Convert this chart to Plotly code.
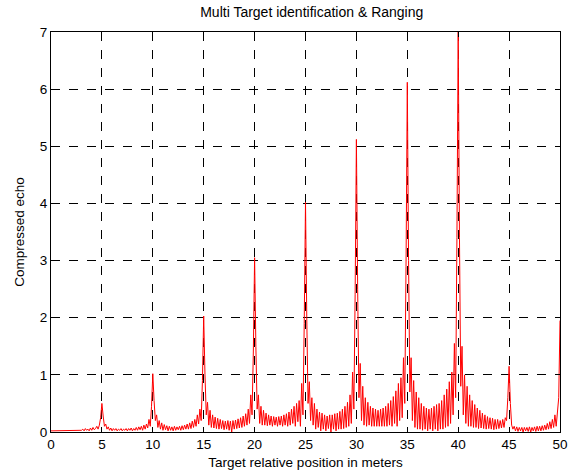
import numpy as np
import plotly.graph_objects as go

# x positions: 0 .. 50 m, step 0.125 m
step = 0.125

seg_0_5 = [0.02, 0.02, 0.02, 0.02, 0.02, 0.02, 0.02, 0.02, 0.02, 0.02, 0.02, 0.02,
           0.02, 0.02, 0.02, 0.02, 0.02, 0.02, 0.02, 0.02, 0.02, 0.02, 0.02, 0.02,
           0.03, 0.05, 0.02, 0.06, 0.03, 0.05, 0.02, 0.07, 0.03, 0.08, 0.04, 0.06,
           0.10, 0.05, 0.12, 0.25]
seg_5_10 = [0.50, 0.28, 0.10, 0.14, 0.05, 0.09, 0.03, 0.07, 0.02, 0.06, 0.03, 0.06,
            0.02, 0.05, 0.03, 0.06, 0.02, 0.05, 0.03, 0.06, 0.02, 0.06, 0.03, 0.07,
            0.02, 0.06, 0.03, 0.08, 0.03, 0.09, 0.04, 0.10, 0.03, 0.12, 0.05, 0.14,
            0.07, 0.22, 0.10, 0.45]
seg_10_15 = [1.02, 0.55, 0.20, 0.30, 0.08, 0.20, 0.05, 0.16, 0.03, 0.13, 0.04, 0.11,
             0.02, 0.10, 0.03, 0.09, 0.02, 0.10, 0.03, 0.09, 0.04, 0.10, 0.03, 0.11,
             0.04, 0.12, 0.05, 0.14, 0.05, 0.16, 0.06, 0.19, 0.08, 0.22, 0.10, 0.30,
             0.14, 0.40, 0.20, 0.90]
seg_15_20 = [2.03, 1.00, 0.30, 0.52, 0.12, 0.38, 0.08, 0.30, 0.07, 0.26, 0.06, 0.24,
             0.05, 0.22, 0.06, 0.20, 0.04, 0.19, 0.05, 0.20, 0.03, 0.19, 0.00, 0.20,
             0.05, 0.21, 0.06, 0.23, 0.07, 0.25, 0.08, 0.28, 0.10, 0.32, 0.12, 0.40,
             0.15, 0.65, 0.30, 1.40]
seg_20_25 = [3.05, 1.50, 0.40, 0.65, 0.15, 0.45, 0.12, 0.38, 0.12, 0.33, 0.11, 0.30,
             0.12, 0.28, 0.10, 0.27, 0.12, 0.26, 0.10, 0.27, 0.12, 0.28, 0.10, 0.30,
             0.12, 0.32, 0.10, 0.35, 0.12, 0.40, 0.15, 0.45, 0.10, 0.50, 0.18, 0.55,
             0.10, 0.85, 0.30, 1.90]
seg_25_30 = [4.02, 2.00, 0.50, 0.88, 0.20, 0.60, 0.12, 0.50, 0.05, 0.40, 0.08, 0.35,
             0.02, 0.33, 0.05, 0.30, 0.02, 0.28, 0.06, 0.30, 0.00, 0.30, 0.05, 0.32,
             0.02, 0.33, 0.05, 0.36, 0.05, 0.40, 0.06, 0.45, 0.08, 0.52, 0.10, 0.65,
             0.15, 1.05, 0.40, 2.40]
seg_30_35 = [5.12, 2.50, 0.60, 1.20, 0.20, 0.80, 0.12, 0.60, 0.10, 0.52, 0.12, 0.45,
             0.10, 0.42, 0.10, 0.40, 0.10, 0.38, 0.10, 0.40, 0.10, 0.42, 0.10, 0.45,
             0.10, 0.50, 0.12, 0.55, 0.10, 0.62, 0.15, 0.72, 0.10, 0.85, 0.20, 0.95,
             0.25, 1.30, 0.50, 2.90]
seg_35_40 = [6.12, 3.00, 0.70, 1.30, 0.20, 0.90, 0.08, 0.70, 0.05, 0.60, 0.05, 0.50,
             0.03, 0.45, 0.05, 0.42, 0.02, 0.40, 0.05, 0.42, 0.02, 0.45, 0.05, 0.48,
             0.02, 0.50, 0.05, 0.55, 0.05, 0.65, 0.08, 0.75, 0.10, 0.88, 0.15, 1.05,
             0.30, 1.55, 0.60, 3.40]
seg_40_45 = [7.00, 3.40, 0.80, 1.50, 0.30, 1.00, 0.15, 0.80, 0.10, 0.65, 0.10, 0.55,
             0.08, 0.48, 0.08, 0.42, 0.06, 0.38, 0.07, 0.33, 0.06, 0.30, 0.05, 0.27,
             0.06, 0.25, 0.05, 0.24, 0.04, 0.22, 0.05, 0.22, 0.06, 0.20, 0.07, 0.22,
             0.08, 0.25, 0.20, 0.60]
seg_45_50 = [1.15, 0.50, 0.12, 0.05, 0.10, 0.02, 0.09, 0.01, 0.08, 0.02, 0.08, 0.00,
             0.08, 0.02, 0.08, 0.01, 0.09, 0.00, 0.08, 0.02, 0.09, 0.01, 0.10, 0.02,
             0.10, 0.02, 0.11, 0.03, 0.12, 0.04, 0.15, 0.05, 0.18, 0.06, 0.22, 0.08,
             0.30, 0.10, 0.45, 0.60, 1.95]

echo = (seg_0_5 + seg_5_10 + seg_10_15 + seg_15_20 + seg_20_25 +
        seg_25_30 + seg_30_35 + seg_35_40 + seg_40_45 + seg_45_50)
position = [i * step for i in range(len(echo))]

x_ticks = [0, 5, 10, 15, 20, 25, 30, 35, 40, 45, 50]
y_ticks = [0, 1, 2, 3, 4, 5, 6, 7]

fig = go.Figure()
fig.add_trace(go.Scatter(x=position, y=echo, mode="lines",
                         line=dict(color="#ff0000", width=1), showlegend=False))

fam = "Liberation Sans, Arial, sans-serif"
font = dict(family=fam, size=13.5, color="black")
axis_common = dict(showline=True, linecolor="black", linewidth=1, mirror="ticks",
                   ticks="inside", ticklen=5, tickcolor="black", tickwidth=1,
                   showgrid=True, gridcolor="black", gridwidth=1, griddash="dash",
                   zeroline=False, tickfont=font, automargin=False)

fig.update_layout(
    width=572, height=476,
    margin=dict(l=51, r=12, t=32, b=44, autoexpand=False),
    paper_bgcolor="white", plot_bgcolor="white",
    font=font,
    title=dict(text="Multi Target identification & Ranging", x=0.545, xanchor="center",
               y=0.974, yanchor="middle", font=dict(family=fam, size=14, color="black")),
)
fig.update_xaxes(range=[0, 50], tickvals=x_ticks, **axis_common,
                 title=dict(text="Target relative position in meters", standoff=6,
                            font=dict(family=fam, size=13.5, color="black")))
fig.update_yaxes(range=[0, 7], tickvals=y_ticks, **axis_common,
                 title=dict(text="Compressed echo", standoff=12,
                            font=dict(family=fam, size=13.5, color="black")))

fig.write_html("out.html")
